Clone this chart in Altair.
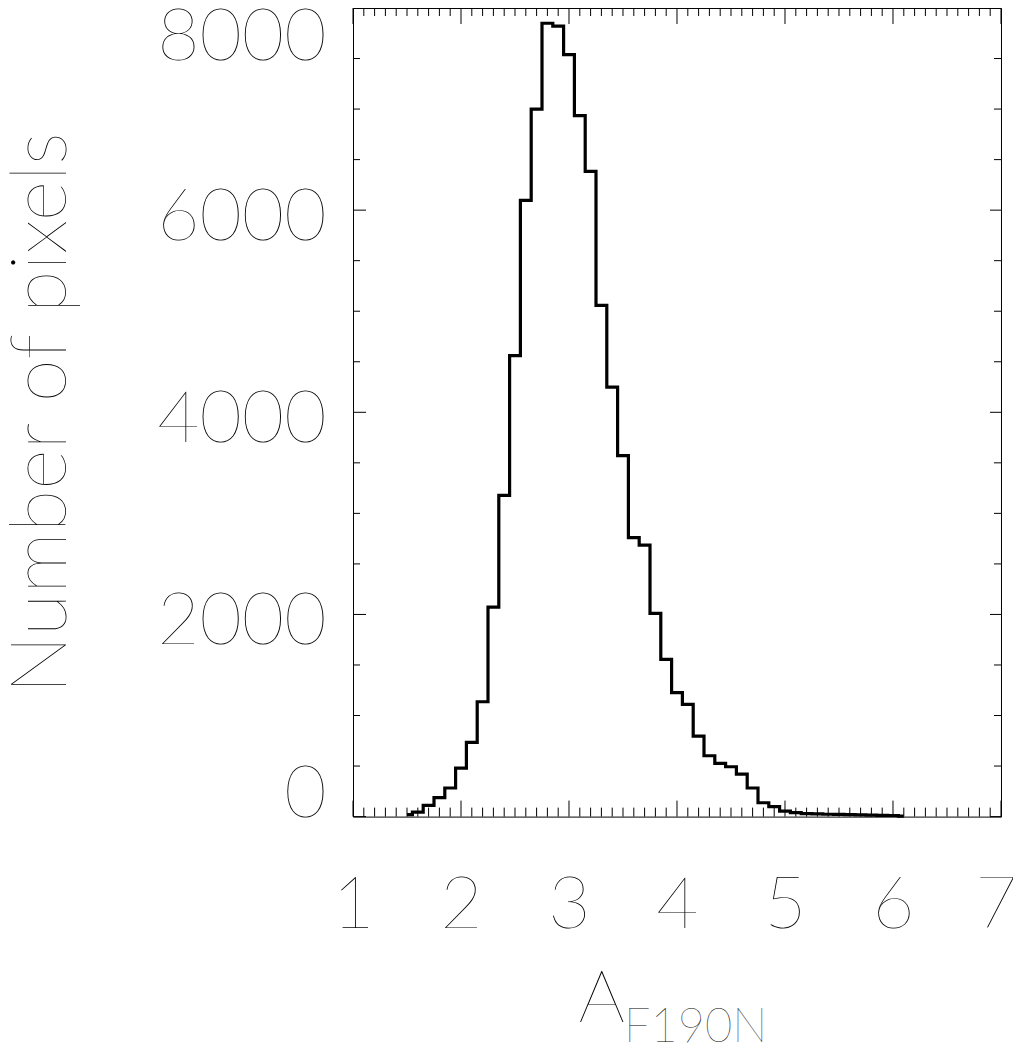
import altair as alt
import pandas as pd

# Histogram (bin centres and counts)
a_values = [1.5, 1.6, 1.7, 1.8, 1.9, 2.0, 2.1, 2.2, 2.3, 2.4,
            2.5, 2.6, 2.7, 2.8, 2.9, 3.0, 3.1, 3.2, 3.3, 3.4,
            3.5, 3.6, 3.7, 3.8, 3.9, 4.0, 4.1, 4.2, 4.3, 4.4,
            4.5, 4.6, 4.7, 4.8, 4.9, 5.0, 5.1, 5.2, 5.3, 5.4,
            5.5, 5.6, 5.7, 5.8, 5.9, 6.0, 6.1]
counts = [20, 45, 112, 187, 283, 480, 734, 1136, 2072, 3179,
          4560, 6096, 6999, 7849, 7820, 7539, 6936, 6383, 5058, 4250,
          3572, 2761, 2685, 2010, 1556, 1227, 1110, 797, 602, 527,
          493, 421, 283, 137, 98, 55, 39, 30, 26, 23,
          21, 19, 17, 15, 13, 11, 5]

x_major = [1, 2, 3, 4, 5, 6, 7]
x_minor = [round(1 + 0.1 * i, 1) for i in range(61) if i % 10 != 0]
y_major = [0, 2000, 4000, 6000, 8000]
y_minor = [500, 1000, 1500, 2500, 3000, 3500, 4500, 5000, 5500, 6500, 7000, 7500]

x_title_main = "A"
x_title_sub = "F190N"
y_title = "Number of pixels"

W = 648
H = 808.6
FONT = "Lato"
FW = 100

xs = alt.Scale(domain=[1, 7], nice=False, zero=False)
ys = alt.Scale(domain=[0, 8000], nice=False, zero=False)

hist = pd.DataFrame({"a": a_values, "n": counts})

line = alt.Chart(hist).mark_line(
    interpolate="step", color="black", strokeWidth=3.2
).encode(
    x=alt.X("a:Q", scale=xs, axis=alt.Axis(
        values=x_major, title=None, grid=False, domain=False, ticks=False, tickSize=0,
        labelFont=FONT, labelFontWeight=FW, labelFontSize=73, labelColor="black",
        labelPadding=53, labelFlush=False, labelOverlap=False, format="d",
        labelOffset={"condition": {"test": "datum.value == 7", "value": -5}, "value": 0})),
    y=alt.Y("n:Q", scale=ys, axis=alt.Axis(
        values=y_major, title=None, grid=False, domain=False, ticks=False, tickSize=0,
        labelFont=FONT, labelFontWeight=FW, labelFontSize=73, labelColor="black",
        labelPadding=27, labelFlush=False, labelOverlap=False, format="d",
        labelBaseline="alphabetic",
        labelOffset={"condition": [
            {"test": "datum.value == 0", "value": 0},
            {"test": "datum.value == 8000", "value": 52}],
            "value": 29.5})),
)

def xticks(vals, length_bottom, length_top):
    d = pd.DataFrame({"v": vals})
    b = alt.Chart(d).mark_rule(color="black", strokeWidth=1).encode(
        x=alt.X("v:Q", scale=xs), y=alt.value(H), y2=alt.value(H - length_bottom))
    t = alt.Chart(d).mark_rule(color="black", strokeWidth=1).encode(
        x=alt.X("v:Q", scale=xs), y=alt.value(0), y2=alt.value(length_top))
    return [b, t]

def yticks(vals, length_left, length_right):
    d = pd.DataFrame({"v": vals})
    l = alt.Chart(d).mark_rule(color="black", strokeWidth=1).encode(
        y=alt.Y("v:Q", scale=ys), x=alt.value(0), x2=alt.value(length_left))
    r = alt.Chart(d).mark_rule(color="black", strokeWidth=1).encode(
        y=alt.Y("v:Q", scale=ys), x=alt.value(W), x2=alt.value(W - length_right))
    return [l, r]

tick_layers = (xticks(x_major, 16, 16) + xticks(x_minor, 9, 8)
               + yticks(y_major, 13, 11) + yticks(y_minor, 7, 7))

t_main = alt.Chart(pd.DataFrame({"t": [x_title_main]})).mark_text(
    font=FONT, fontWeight=FW, fontSize=73, align="left", baseline="alphabetic", color="black"
).encode(text="t:N", x=alt.value(225.5), y=alt.value(1013.7))

t_sub = alt.Chart(pd.DataFrame({"t": [x_title_sub]})).mark_text(
    font=FONT, fontWeight=FW, fontSize=47, align="left", baseline="alphabetic", color="black"
).encode(text="t:N", x=alt.value(271), y=alt.value(1033.7))

t_y = alt.Chart(pd.DataFrame({"t": [y_title]})).mark_text(
    font=FONT, fontWeight=FW, fontSize=78, align="center", baseline="alphabetic",
    angle=270, color="black"
).encode(text="t:N", x=alt.value(-287.3), y=alt.value(405))

chart = alt.layer(line, *tick_layers, t_main, t_sub, t_y).properties(
    width=W, height=H,
    autosize=alt.AutoSizeParams(type="none"),
    padding={"left": 345, "top": 0, "right": 12, "bottom": 236},
    background="white",
).configure_view(stroke="black", strokeWidth=1)

chart.save("out.html", embed_options={"renderer": "svg", "actions": False})
